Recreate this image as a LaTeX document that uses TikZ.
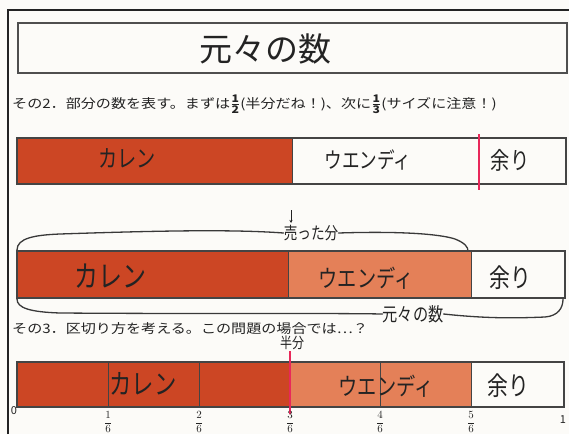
\documentclass[tikz,border=0pt]{standalone}
\usepackage{fontspec}
\usepackage{graphicx}
\setmainfont{Noto Sans CJK JP}
\usetikzlibrary{arrows.meta}
\definecolor{karen}{RGB}{204,70,36}
\definecolor{wendy}{RGB}{228,128,88}
\definecolor{pinkline}{RGB}{232,40,90}
\definecolor{ink}{RGB}{35,35,35}
\definecolor{paper}{RGB}{252,251,248}
\newcommand\hw[2]{\fontsize{#1}{#1}\selectfont\scalebox{0.8}[1]{#2}}
\newcommand\fr[2]{\fontsize{11}{11}\selectfont$\displaystyle\frac{#1}{#2}$}
\newcommand\bfr[2]{{\fontsize{15}{15}\selectfont$\frac{\mathbf{#1}}{\mathbf{#2}}$}}
\begin{document}
\begin{tikzpicture}[x=1pt,y=-1pt,
  barline/.style={draw=ink!85,line width=1.1pt},
  seg/.style={draw=ink!85,line width=0.9pt},
  hand/.style={inner sep=0pt,text=ink},
  brace/.style={draw=ink!90,line width=1.3pt,line cap=round},
  pinkmark/.style={draw=pinkline,line width=1.8pt},
  body/.style={inner sep=0pt,anchor=west,text=ink,font=\fontsize{13}{13}\selectfont},
  tick/.style={inner sep=0pt,text=ink}]
\useasboundingbox (0,0) rectangle (569,434);
\fill[paper] (0,0) rectangle (569,434);
% outer frame
\draw[ink,line width=1.8pt] (8,434) -- (8,10) -- (569,10);
% title
\draw[ink!80,line width=1.2pt] (18,23) rectangle (567,73);
\node[hand] (title) at (265,49) {\fontsize{33}{33}\selectfont 元々の数};
% line 2
\node[body] (l2) at (12,104) {\scalebox{1.16}[1]{その2．部分の数を表す。まずは\bfr{1}{2}(半分だね！)、次に\bfr{1}{3}(サイズに注意！)}};
% bar 1
\fill[karen] (17,138) rectangle (292,184);
\draw[barline] (17,138) rectangle (566,184);
\draw[seg] (292,138) -- (292,184);
\draw[pinkmark] (479,134) -- (479,190);
\node[hand] (k1) at (127,158) {\hw{24}{カレン}};
\node[hand] (w1) at (368,160) {\hw{22}{ウエンディ}};
\node[hand] (a1) at (510,160) {\hw{24}{余り}};
% top brace
\node[hand] (uta) at (311,233) {\hw{17}{売った分}};
\coordinate (arrtop) at (291,210);
\draw[-{Stealth[length=3pt,width=3pt]},ink,line width=0.9pt] (arrtop) -- (291,223);
\coordinate (tb1) at (17,250);
\coordinate (tb2) at (468,251);
\draw[brace] (tb1) .. controls (17,238) and (35,235) .. (60,234) .. controls (150,231) and (230,229) .. (uta.west);
\draw[brace] (uta.east) .. controls (400,231) and (440,234) .. (455,239) .. controls (465,243) and (468,247) .. (tb2);
% bar 2
\fill[karen] (17,251) rectangle (288,298);
\fill[wendy] (288,251) rectangle (471,298);
\draw[barline] (17,251) rectangle (565,298);
\draw[seg] (288,251) -- (288,298);
\draw[seg] (471,251) -- (471,298);
\node[hand] (k2) at (110,276) {\hw{30}{カレン}};
\node[hand] (w2) at (366,278) {\hw{24}{ウエンディ}};
\node[hand] (a2) at (510,278) {\hw{26}{余り}};
% bottom brace
\node[hand] (ogn) at (413,314) {\hw{19}{元々の数}};
\coordinate (bb1) at (17,299);
\coordinate (bb2) at (563,299);
\draw[brace] (bb1) .. controls (17,308) and (30,312) .. (60,313) .. controls (200,314) and (330,313) .. (ogn.west);
\draw[brace] (ogn.east) .. controls (490,319) and (520,318) .. (545,317) .. controls (558,316) and (563,308) .. (bb2);
% line 3
\node[body] (l3) at (12,329) {\scalebox{1.16}[1]{その3．区切り方を考える。この問題の場合では…？}};
\node[hand] (half) at (292,343) {\hw{15}{半分}};
% bar 3
\fill[karen] (17,362) rectangle (290,407);
\fill[wendy] (290,362) rectangle (471,407);
\draw[barline] (17,362) rectangle (564,407);
\foreach \x in {108,199,380,471} \draw[seg] (\x,362) -- (\x,407);
\draw[pinkmark] (290,351) -- (290,414);
\node[hand] (k3) at (143,384) {\hw{28}{カレン}};
\node[hand] (w3) at (386,386) {\hw{24}{ウエンディ}};
\node[hand] (a3) at (508,386) {\hw{26}{余り}};
% ticks
\node[tick] (t0) at (14,411) {\fontsize{11}{11}\selectfont 0};
\node[tick] (t1) at (108,422) {\fr{1}{6}};
\node[tick] (t2) at (199,422) {\fr{2}{6}};
\node[tick] (t3) at (290,422) {\fr{3}{6}};
\node[tick] (t4) at (380,422) {\fr{4}{6}};
\node[tick] (t5) at (471,422) {\fr{5}{6}};
\node[tick] (t6) at (563,420) {\fontsize{11}{11}\selectfont 1};
\end{tikzpicture}
\end{document}
